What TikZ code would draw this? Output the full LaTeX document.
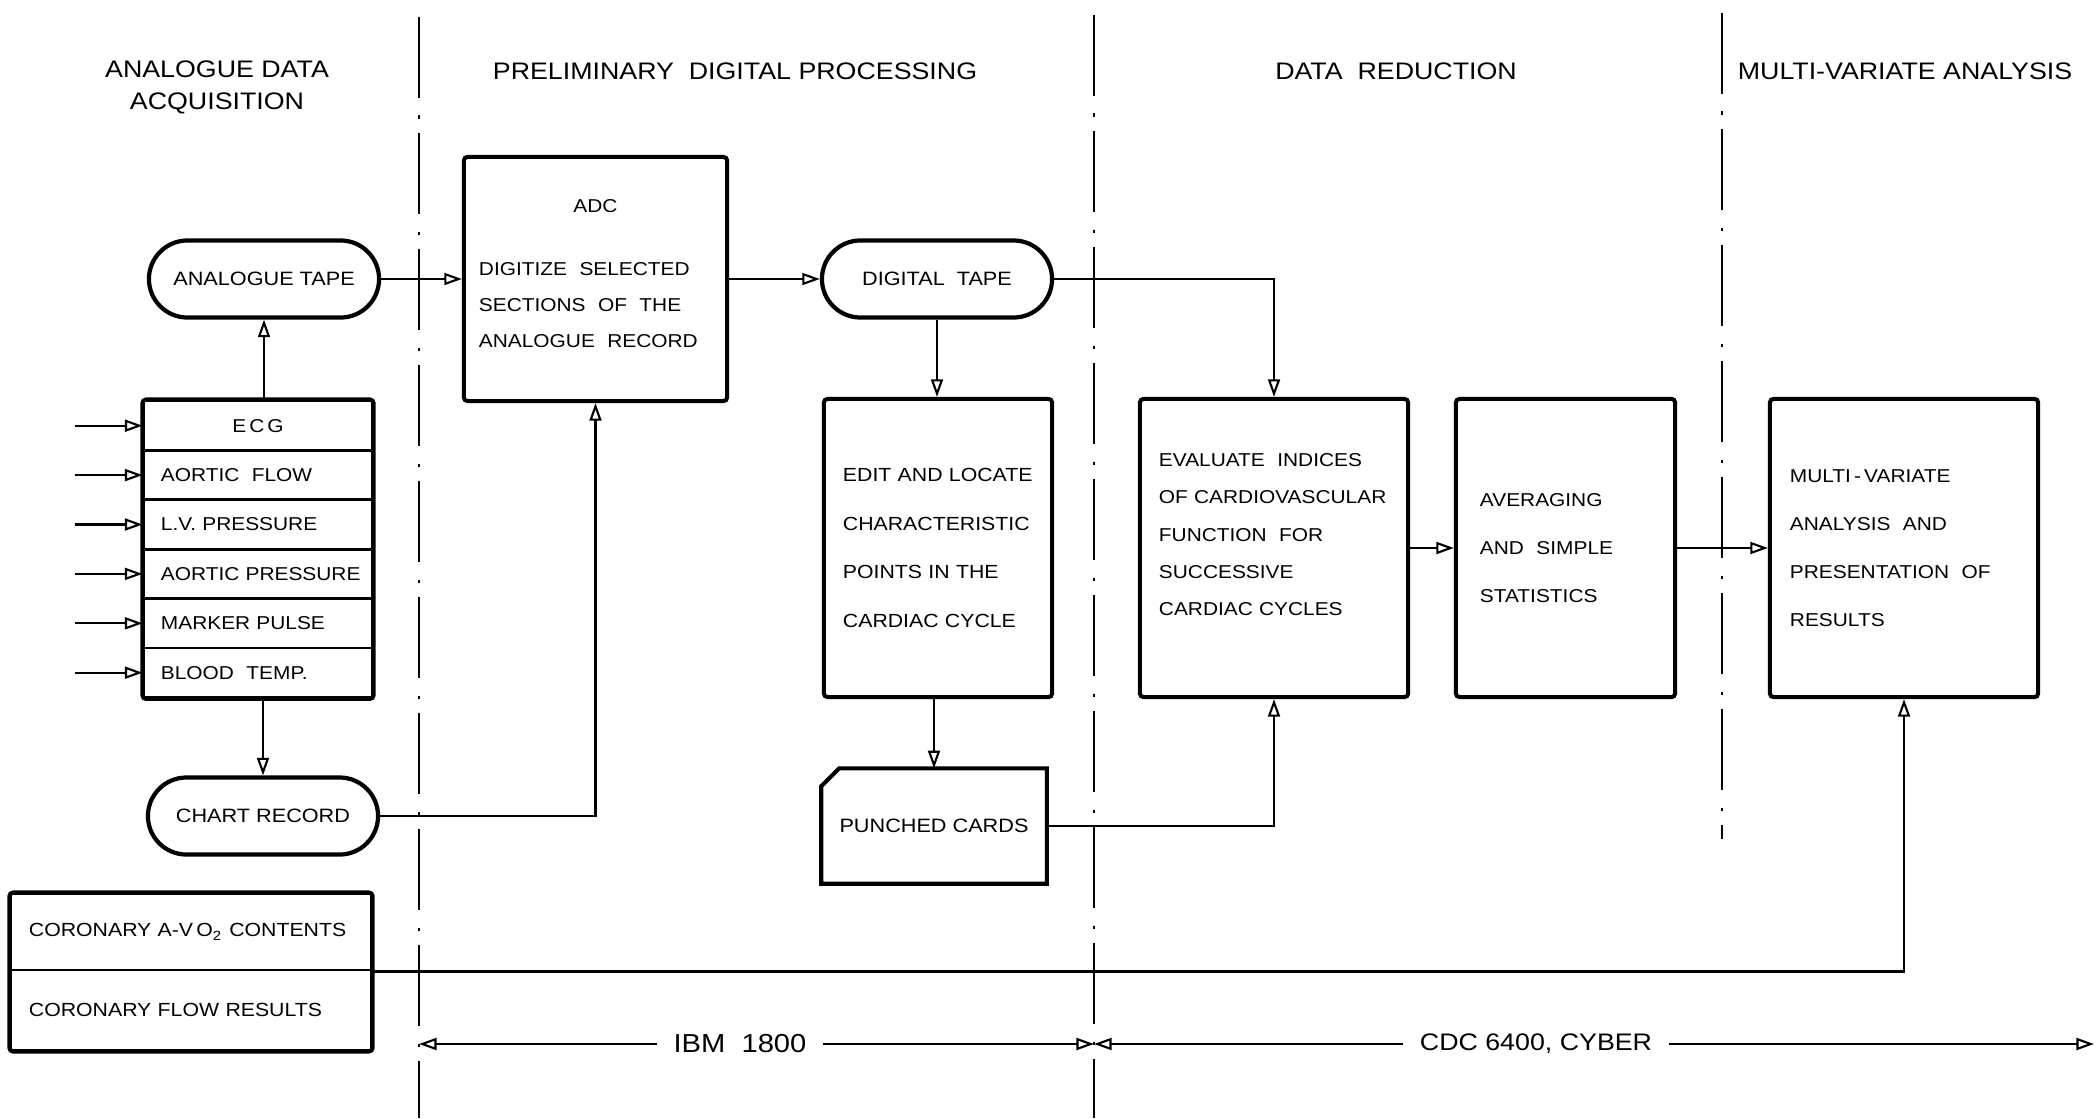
\documentclass[tikz,border=0pt]{standalone}
\usepackage{fontspec}
\setmainfont{Liberation Sans}[FakeStretch=1.12]
\usetikzlibrary{arrows.meta,calc}
\hyphenpenalty=10000
\exhyphenpenalty=10000

\tikzset{
  proc/.style={draw,line width=1.15pt,rounded corners=1pt,inner xsep=0.19cm,inner ysep=0pt,align=left,font=\fontsize{5.3}{13.6}\selectfont},
  tape/.style={draw,line width=1.2pt,rounded corners=0.385cm,minimum width=2.3cm,minimum height=0.77cm,font=\fontsize{5.5}{6.6}\selectfont},
  row/.style={draw,line width=0.8pt,minimum height=0.494cm,text width=1.94cm,inner xsep=0.17cm,inner ysep=0pt,align=left,font=\fontsize{5.3}{6.2}\selectfont},
  flow/.style={line width=0.6pt,-{Triangle[open,length=5pt,width=3.4pt]}},
  stage/.style={font=\fontsize{6.8}{9.1}\selectfont,align=center},
  divide/.style={line width=0.55pt,dash pattern=on 23pt off 5pt on 1pt off 4pt},
}

\begin{document}
\begin{tikzpicture}[x=0.01cm,y=-0.01cm]
\useasboundingbox (0,0) rectangle (2098,1118);

% stage boundaries
\coordinate (d1) at (419,17);
\coordinate (d2) at (1094,15);
\coordinate (d3) at (1722,13);
\draw[divide] (d1) -- (419,1118);
\draw[divide] (d2) -- (1094,1118);
\draw[divide] (d3) -- (1722,839);

% stage titles
\node[stage] (tacq) at (217,87) {ANALOGUE DATA\\ACQUISITION};
\node[stage] (tpre) at (735,71) {PRELIMINARY~~DIGITAL PROCESSING};
\node[stage] (tred) at (1396,71) {DATA~~REDUCTION};
\node[stage] (tmva) at (1905,71) {MULTI-VARIATE ANALYSIS};

% analogue recording
\node[tape] (atape) at (264,279) {ANALOGUE TAPE};
\foreach \name/\txt [count=\i] in {ecg/\hfill E\,C\,G\hfill\null, aflow/AORTIC~~FLOW, lvp/L.V. PRESSURE, apress/\mbox{AORTIC PRESSURE}, marker/MARKER PULSE, btemp/BLOOD~~TEMP.}
  \node[row] (\name) at (258,{401+49.4*(\i-0.5)}) {\txt};
\draw[line width=1.2pt,rounded corners=1pt] (ecg.north west) rectangle (btemp.south east);
\foreach \name in {ecg,aflow,lvp,apress,marker,btemp}
  \draw[flow] ($(\name.west)-(68,0)$) -- (\name.west);
\node[tape] (chart) at (263,816) {CHART RECORD};

\node[row,text width=3.24cm,inner xsep=0.18cm,minimum height=0.76cm,font=\fontsize{5.4}{6.4}\selectfont] (cor1) at (191,932) {CORONARY A-V\,O\textsubscript{2} CONTENTS};
\node[row,text width=3.24cm,inner xsep=0.18cm,minimum height=0.8cm,font=\fontsize{5.4}{6.4}\selectfont] (cor2) at (191,1010) {CORONARY FLOW RESULTS};
\draw[line width=1.2pt,rounded corners=1pt] (cor1.north west) rectangle (cor2.south east);

% IBM 1800 side
\node[proc,text width=2.33cm,inner xsep=0.15cm,minimum height=2.44cm,font=\fontsize{5.3}{10.2}\selectfont] (adc) at (595.5,279)
  {\makebox[2.33cm]{ADC}\\[7.7pt]DIGITIZE~~SELECTED\\SECTIONS~~OF~~THE\\ANALOGUE~~RECORD\\[-7pt]\mbox{}};
\node[tape] (dtape) at (937,279) {DIGITAL~~TAPE};
\node[proc,text width=1.9cm,minimum height=2.98cm,font=\fontsize{5.4}{13.9}\selectfont] (edit) at (938,548)
  {EDIT AND LOCATE\\CHARACTERISTIC\\POINTS IN THE\\CARDIAC CYCLE};
\node[minimum width=2.24cm,minimum height=1.14cm,font=\fontsize{5.5}{6.6}\selectfont] (punch) at (934,826) {PUNCHED CARDS};
\draw[line width=1.15pt] ($(punch.north west)+(0,18)$) -- ($(punch.north west)+(18,0)$) -- (punch.north east)
  -- (punch.south east) -- (punch.south west) -- cycle;

% CDC side
\node[proc,text width=2.3cm,minimum height=2.98cm,font=\fontsize{5.3}{10.6}\selectfont] (evalu) at (1274,548)
  {EVALUATE~~INDICES\\OF CARDIOVASCULAR\\FUNCTION~~FOR\\SUCCESSIVE\\CARDIAC CYCLES\\[-3pt]\mbox{}};
\node[proc,text width=1.71cm,inner xsep=0.24cm,minimum height=2.98cm] (avg) at (1565.5,548)
  {AVERAGING\\AND~~SIMPLE\\STATISTICS};
\node[proc,text width=2.28cm,inner xsep=0.2cm,minimum height=2.98cm] (multi) at (1904,548)
  {MULTI\,-\,VARIATE\\ANALYSIS~~AND\\PRESENTATION~~OF\\RESULTS};

% data flow
\draw[flow] (ecg.north -| atape.south) -- (atape.south);
\draw[flow] (btemp.south -| chart.north) -- (chart.north);
\draw[flow] (atape.east) -- (adc.west);
\draw[flow] (chart.east) -| (adc.south);
\draw[flow] (adc.east) -- (dtape.west);
\draw[flow] (dtape.east) -| (evalu.north);
\draw[flow] (dtape.south) -- (dtape.south |- edit.north);
\draw[flow] (edit.south -| punch.north) -- (punch.north);
\draw[flow] (punch.east) -| (evalu.south);
\draw[flow] (evalu.east) -- (avg.west);
\draw[flow] (avg.east) -- (multi.west);
\draw[flow] (cor1.south east) -| (multi.south);

% machines
\node[stage,inner xsep=0.16cm,font=\fontsize{7.4}{9}\selectfont] (ibm) at (740,1044) {IBM~~1800};
\draw[flow] (ibm.west) -- (ibm.west -| d1);
\draw[flow] (ibm.east) -- (ibm.east -| d2);
\node[stage,inner xsep=0.16cm] (cdc) at (1536,1044) {CDC 6400,~CYBER};
\coordinate (rend) at (2094,1044);
\draw[flow] (cdc.west) -- (cdc.west -| d2);
\draw[flow] (cdc.east) -- (rend);
\end{tikzpicture}
\end{document}
